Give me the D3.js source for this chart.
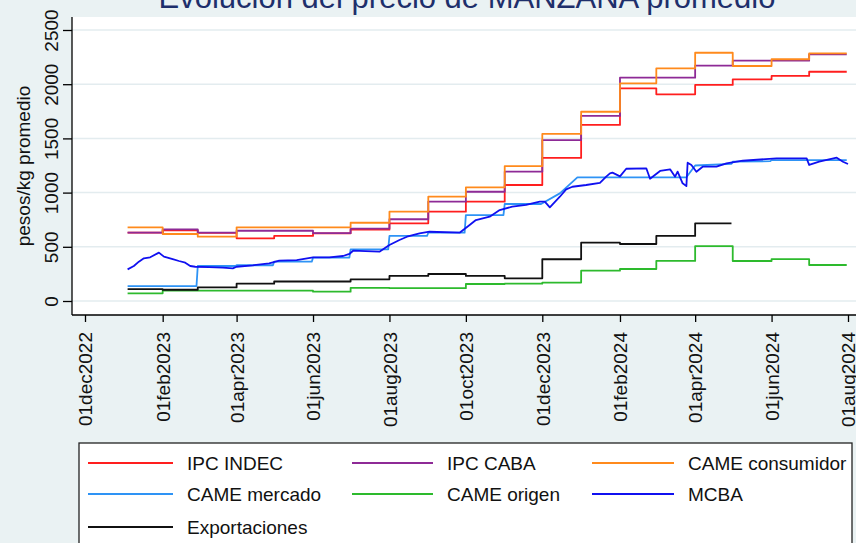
<!DOCTYPE html>
<html>
<head>
<meta charset="utf-8">
<script src="https://cdn.jsdelivr.net/npm/d3@7"></script>
<style>
  html, body { margin: 0; padding: 0; background: #EAF2F3; }
  svg { display: block; }
  text { font-family: "Liberation Sans", Arial, sans-serif; }
</style>
</head>
<body>
<svg id="chart" width="856" height="543"></svg>
<script>
// ---------------- DATA ----------------
const titleText = "Evolución del precio de MANZANA promedio";
const yTitle = "pesos/kg promedio";
const yTicks = [0, 500, 1000, 1500, 2000, 2500];
const xTickLabels = ["01dec2022","01feb2023","01apr2023","01jun2023","01aug2023","01oct2023",
                     "01dec2023","01feb2024","01apr2024","01jun2024","01aug2024"];
const xTickDates = ["2022-12-01","2023-02-01","2023-04-01","2023-06-01","2023-08-01","2023-10-01",
                    "2023-12-01","2024-02-01","2024-04-01","2024-06-01","2024-08-01"];

const seriesNames = ["IPC INDEC","IPC CABA","CAME consumidor","CAME mercado","CAME origen","MCBA","Exportaciones"];
const seriesColors = ["#FF1E1E","#8E2A96","#FF8A1C","#2E93F5","#2DBA2D","#1010F0","#111111"];

// monthly step series (value held from the listed date)
const monthlyDates = ["2023-01-04","2023-02-01","2023-03-01","2023-04-01","2023-05-01","2023-06-01","2023-07-01",
                      "2023-08-01","2023-09-01","2023-10-01","2023-11-01","2023-12-01","2024-01-01","2024-02-01",
                      "2024-03-01","2024-04-01","2024-05-01","2024-06-01","2024-07-01"];
const ipcIndec   = [630, 652, 628, 578, 600, 624, 658, 717, 824, 916, 1070, 1320, 1624, 1962, 1907, 1993, 2045, 2076, 2115];
const ipcCaba    = [630, 661, 630, 648, 648, 626, 668, 754, 916, 1008, 1193, 1485, 1707, 2060, 2060, 2171, 2217, 2217, 2276];
const cameConsum = [680, 618, 593, 680, 680, 680, 722, 824, 962, 1049, 1245, 1541, 1746, 2008, 2146, 2290, 2168, 2230, 2285];
const cameOrigen = [71, 95, 95, 95, 95, 86, 122, 118, 118, 157, 160, 170, 280, 295, 370, 507, 369, 387, 332];
const monthlyEnd = "2024-07-31";

const exportDates  = ["2023-01-04","2023-02-01","2023-03-01","2023-04-01","2023-05-01","2023-06-01","2023-07-01",
                      "2023-08-01","2023-09-01","2023-10-01","2023-11-01","2023-12-01","2024-01-01","2024-02-01",
                      "2024-03-01","2024-04-01"];
const exportValues = [110, 104, 125, 160, 180, 180, 200, 231, 249, 231, 209, 385, 538, 526, 600, 717];
const exportEnd = "2024-04-30";

// CAME mercado (points joined by straight segments)
const mercadoDates = ["2023-01-04","2023-02-28","2023-03-01","2023-03-31","2023-04-01","2023-04-30","2023-05-01",
                      "2023-05-31","2023-06-01","2023-06-30","2023-07-01","2023-07-31","2023-08-01","2023-08-31",
                      "2023-09-01","2023-09-30","2023-10-01","2023-10-31","2023-11-01","2023-11-30","2023-12-15",
                      "2023-12-29","2024-03-25","2024-04-01","2024-04-30","2024-05-01","2024-05-31","2024-06-01",
                      "2024-07-31"];
const mercadoValues = [138, 138, 323, 323, 330, 330, 363, 363, 400, 400, 477, 477, 600, 600,
                       630, 630, 793, 793, 895, 895, 993, 1141, 1141, 1250, 1265, 1285, 1290, 1300, 1300];

// MCBA (daily-ish market prices)
const mcbaDates = ["2023-01-04","2023-01-09","2023-01-13","2023-01-17","2023-01-22","2023-01-29","2023-02-02",
                   "2023-02-09","2023-02-14","2023-02-19","2023-02-23","2023-02-27","2023-03-10","2023-03-21",
                   "2023-03-29","2023-04-01","2023-04-14","2023-04-27","2023-05-05","2023-05-19","2023-06-01",
                   "2023-06-14","2023-06-25","2023-06-30","2023-07-03","2023-07-13","2023-07-24","2023-08-01",
                   "2023-08-09","2023-08-15","2023-08-25","2023-09-02","2023-09-26","2023-10-04","2023-10-09",
                   "2023-10-20","2023-10-28","2023-11-07","2023-11-18","2023-11-29","2023-12-03","2023-12-07",
                   "2023-12-15","2023-12-20","2023-12-25","2024-01-05","2024-01-16","2024-01-21","2024-01-24",
                   "2024-01-26","2024-02-01","2024-02-06","2024-02-22","2024-02-25","2024-03-04","2024-03-12",
                   "2024-03-16","2024-03-18","2024-03-22","2024-03-25","2024-03-26","2024-03-29","2024-04-02",
                   "2024-04-07","2024-04-18","2024-04-26","2024-05-09","2024-06-05","2024-06-29","2024-07-01",
                   "2024-07-09","2024-07-23","2024-07-28","2024-08-01"];
const mcbaValues = [292, 323, 363, 394, 403, 446, 409, 387, 369, 353, 323, 316, 312, 307, 301, 316, 329, 348,
                    372, 378, 403, 403, 415, 434, 464, 461, 455, 517, 563, 593, 624, 639, 630, 701, 747, 778,
                    839, 870, 886, 916, 916, 864, 962, 1030, 1054, 1070, 1090, 1147, 1178, 1184, 1150, 1220,
                    1224, 1128, 1200, 1215, 1147, 1193, 1086, 1060, 1276, 1255, 1193, 1239, 1239, 1270, 1294,
                    1316, 1316, 1255, 1285, 1322, 1285, 1264];

// ---------------- DRAW ----------------
const parse = d3.utcParse("%Y-%m-%d");
const svg = d3.select("#chart");
const W = 856, H = 543;

const x = d3.scaleUtc().domain([parse("2022-12-01"), parse("2024-08-01")]).range([85, 848]);
const y = d3.scaleLinear().domain([0, 2500]).range([301, 30]);

const plotLeft = 72, plotTop = 17, plotBottom = 315;

svg.append("rect").attr("width", W).attr("height", H).attr("fill", "#EAF2F3");

// title
svg.append("text").attr("x", 467).attr("y", 8).attr("text-anchor", "middle")
  .attr("font-size", "31px").attr("fill", "#1E2F6B").text(titleText);

// plot region
svg.append("rect").attr("x", plotLeft).attr("y", plotTop)
  .attr("width", W - plotLeft).attr("height", plotBottom - plotTop).attr("fill", "#FFFFFF");

// gridlines
svg.append("g").selectAll("line").data(yTicks).join("line")
  .attr("x1", plotLeft).attr("x2", W)
  .attr("y1", d => y(d)).attr("y2", d => y(d))
  .attr("stroke", "#E3ECEF").attr("stroke-width", 1.5);

// y axis
const yAxis = d3.axisLeft(y).tickValues(yTicks).tickSize(9).tickSizeOuter(0).tickFormat(d3.format("d"));
const gy = svg.append("g").attr("transform", `translate(${plotLeft},0)`).call(yAxis);
gy.select(".domain").remove();
gy.selectAll(".tick line").attr("stroke", "#000").attr("stroke-width", 1.3);
gy.selectAll(".tick text")
  .attr("font-size", "19px").attr("fill", "#111")
  .attr("x", null).attr("dy", null)
  .attr("text-anchor", "middle")
  .attr("transform", "translate(-21,0) rotate(-90)")
  .attr("y", 0).attr("dy", "0.36em").attr("dx", 0);
svg.append("line").attr("x1", plotLeft).attr("x2", plotLeft).attr("y1", plotTop).attr("y2", plotBottom)
  .attr("stroke", "#000").attr("stroke-width", 1.3);

// y title
svg.append("text").attr("transform", `translate(30,${(plotTop + plotBottom) / 2}) rotate(-90)`)
  .attr("text-anchor", "middle").attr("font-size", "19px").attr("fill", "#111").text(yTitle);

// x axis
const xDates = xTickDates.map(parse);
const xAxis = d3.axisBottom(x).tickValues(xDates).tickSize(7).tickSizeOuter(0)
  .tickFormat((d, i) => xTickLabels[i]);
const gx = svg.append("g").attr("transform", `translate(0,${plotBottom})`).call(xAxis);
gx.select(".domain").remove();
gx.selectAll(".tick line").attr("stroke", "#000").attr("stroke-width", 1.3);
gx.selectAll(".tick text")
  .attr("font-size", "19px").attr("fill", "#111")
  .attr("y", null).attr("dy", null)
  .attr("text-anchor", "end")
  .attr("transform", "translate(0,17) rotate(-90)")
  .attr("x", 0).attr("y", 0).attr("dy", "0.36em");
svg.append("line").attr("x1", plotLeft).attr("x2", W).attr("y1", plotBottom).attr("y2", plotBottom)
  .attr("stroke", "#000").attr("stroke-width", 1.3);

// series construction
function stepSeries(dates, vals, end) {
  const pts = dates.map((d, i) => ({ date: parse(d), value: vals[i] }));
  pts.push({ date: parse(end), value: vals[vals.length - 1] });
  return pts;
}
function pointSeries(dates, vals) {
  return dates.map((d, i) => ({ date: parse(d), value: vals[i] }));
}
const series = [
  { data: stepSeries(monthlyDates, ipcIndec, monthlyEnd), curve: d3.curveStepAfter },
  { data: stepSeries(monthlyDates, ipcCaba, monthlyEnd), curve: d3.curveStepAfter },
  { data: stepSeries(monthlyDates, cameConsum, monthlyEnd), curve: d3.curveStepAfter },
  { data: pointSeries(mercadoDates, mercadoValues), curve: d3.curveLinear },
  { data: stepSeries(monthlyDates, cameOrigen, monthlyEnd), curve: d3.curveStepAfter },
  { data: pointSeries(mcbaDates, mcbaValues), curve: d3.curveLinear },
  { data: stepSeries(exportDates, exportValues, exportEnd), curve: d3.curveStepAfter }
];

const gLines = svg.append("g");
series.forEach((s, i) => {
  const line = d3.line().x(d => x(d.date)).y(d => y(d.value)).curve(s.curve);
  gLines.append("path").datum(s.data)
    .attr("d", line).attr("fill", "none")
    .attr("stroke", seriesColors[i]).attr("stroke-width", 1.8)
    .attr("stroke-linejoin", "round");
});

// legend
const legLeft = 79, legTop = 443, legRight = 852;
svg.append("defs").append("clipPath").attr("id", "legclip")
  .append("rect").attr("x", legLeft).attr("y", legTop).attr("width", legRight - legLeft).attr("height", H - legTop + 5);
svg.append("rect").attr("x", legLeft).attr("y", legTop).attr("width", legRight - legLeft).attr("height", 130)
  .attr("fill", "#FFFFFF").attr("stroke", "#222").attr("stroke-width", 1.3);
const colX = [88, 352, 592];
const colLen = [85, 81, 82];
const rowY = [463, 494, 527];
const gLeg = svg.append("g").attr("clip-path", "url(#legclip)");
seriesNames.forEach((name, i) => {
  const c = i % 3, r = Math.floor(i / 3);
  gLeg.append("line").attr("x1", colX[c]).attr("x2", colX[c] + colLen[c])
    .attr("y1", rowY[r]).attr("y2", rowY[r])
    .attr("stroke", seriesColors[i]).attr("stroke-width", 2);
  gLeg.append("text").attr("x", colX[c] + colLen[c] + 14).attr("y", rowY[r]).attr("dy", "0.36em")
    .attr("font-size", "19px").attr("fill", "#111").text(name);
});
</script>
</body>
</html>
